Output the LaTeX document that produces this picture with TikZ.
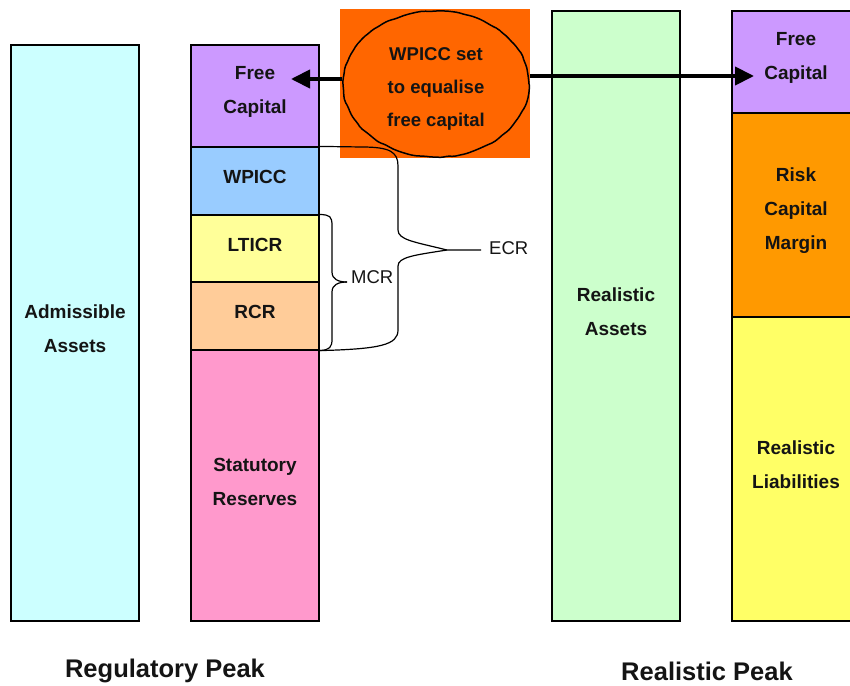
\documentclass[tikz,border=0pt]{standalone}
\usepackage{fontspec}
\setmainfont{Liberation Sans}
\usetikzlibrary{shapes.geometric,arrows.meta,decorations.pathmorphing}
\definecolor{admC}{HTML}{CCFFFF}
\definecolor{freeC}{HTML}{CC99FF}
\definecolor{wpiccC}{HTML}{99CCFF}
\definecolor{lticrC}{HTML}{FFFF99}
\definecolor{rcrC}{HTML}{FFCC99}
\definecolor{statC}{HTML}{FF99CC}
\definecolor{orangeC}{HTML}{FF6600}
\definecolor{raC}{HTML}{CCFFCC}
\definecolor{rcmC}{HTML}{FF9900}
\definecolor{rlC}{HTML}{FFFF66}
\definecolor{txtC}{HTML}{141414}
\begin{document}
\begin{tikzpicture}[x=1pt,y=-1pt,
  box/.style={draw=black,line width=1.2pt,rectangle,inner sep=0pt,minimum width=128pt},
  lbl/.style={align=center,text=txtC,inner sep=0pt,font={\fontsize{19}{34}\selectfont\bfseries}},
  bigarrow/.style={line width=4pt,-{Triangle[length=19pt,width=18pt]}},
  bracestyle/.style={line width=1.2pt},
  small/.style={text=txtC,font={\fontsize{18.5}{22}\selectfont},inner sep=0pt},
  title/.style={text=txtC,font={\fontsize{25.5}{30}\selectfont\bfseries},inner sep=0pt}]
\useasboundingbox (0,0) rectangle (850,685);
% Regulatory peak
\node[box,fill=admC,minimum height=576pt] (adm) at (75,333) {};
\node[box,fill=freeC,minimum height=102pt] (fcL) at (255,96) {};
\node[box,fill=wpiccC,minimum height=68pt] (wpicc) at (255,181) {};
\node[box,fill=lticrC,minimum height=67pt] (lticr) at (255,248.5) {};
\node[box,fill=rcrC,minimum height=68pt] (rcr) at (255,316) {};
\node[box,fill=statC,minimum height=271pt] (stat) at (255,485.5) {};
% Realistic peak
\node[box,fill=raC,minimum height=610pt] (ra) at (616,316) {};
\node[box,fill=freeC,minimum height=102pt] (fcR) at (796,62) {};
\node[box,fill=rcmC,minimum height=204pt] (rcm) at (796,215) {};
\node[box,fill=rlC,minimum height=304pt] (rl) at (796,469) {};
% box labels
\node[lbl] (admT) at ([yshift=4pt]adm.center) {Admissible\\Assets};
\node[lbl] (fcLT) at ([yshift=4pt]fcL.center) {Free\\Capital};
\node[lbl] (wpiccT) at ([yshift=4pt]wpicc.center) {WPICC};
\node[lbl] (lticrT) at ([yshift=4pt]lticr.center) {LTICR};
\node[lbl] (rcrT) at ([yshift=4pt]rcr.center) {RCR};
\node[lbl] (statT) at ([yshift=4pt]stat.center) {Statutory\\Reserves};
\node[lbl] (raT) at ([yshift=4pt]ra.center) {Realistic\\Assets};
\node[lbl] (fcRT) at ([yshift=4pt]fcR.center) {Free\\Capital};
\node[lbl] (rcmT) at ([yshift=4pt]rcm.center) {Risk\\Capital\\Margin};
\node[lbl] (rlT) at ([yshift=4pt]rl.center) {Realistic\\Liabilities};
% orange callout
\node[rectangle,fill=orangeC,minimum width=190pt,minimum height=149pt,inner sep=0pt] (panel) at (435,83.5) {};
\node[ellipse,fill=orangeC,draw=black,line width=1.5pt,minimum width=186pt,minimum height=146pt,
  inner sep=0pt,decorate,decoration={random steps,segment length=6pt,amplitude=0.7pt},rounded corners=2pt]
  (bubble) at (436,84) {};
\node[lbl,font={\fontsize{18.5}{33}\selectfont\bfseries}] (bubbleT) at ([yshift=-5pt]bubble.center) {WPICC set\\to equalise\\free capital};
% arrows
\coordinate (tipL) at (291,79);
\coordinate (tipR) at (754,76);
\draw[bigarrow] (bubble.west |- tipL) -- (tipL);
\draw[bigarrow] (bubble.east |- tipR) -- (tipR);
% MCR brace
\coordinate (mcrTip) at (347,282);
\draw[bracestyle] (lticr.north east) .. controls (330,215) and (332,216) .. (332,226)
  -- (332,272) .. controls (332,279) and (338,282) .. (mcrTip);
\draw[bracestyle] (rcr.south east) .. controls (330,350) and (332,347) .. (332,339)
  -- (332,292) .. controls (332,285) and (338,282) .. (mcrTip);
\node[small,anchor=west] (mcr) at (351,277) {MCR};
% ECR brace
\coordinate (ecrTip) at (447,250);
\coordinate (ecrEnd) at (481,250);
\draw[bracestyle] (wpicc.north east) -- (362,147) .. controls (390,147) and (398,152) .. (398,166)
  -- (398,230) .. controls (398,240) and (415,242) .. (ecrTip) -- (ecrEnd);
\draw[bracestyle] (rcr.south east) .. controls (380,349) and (398,345) .. (398,330)
  -- (398,266) .. controls (398,257) and (415,255) .. (ecrTip);
\node[small,anchor=west] (ecr) at (489,248) {ECR};
% titles
\node[title] (regT) at (165,671) {Regulatory Peak};
\node[title] (realT) at (707,671) {Realistic Peak};
\end{tikzpicture}
\end{document}
